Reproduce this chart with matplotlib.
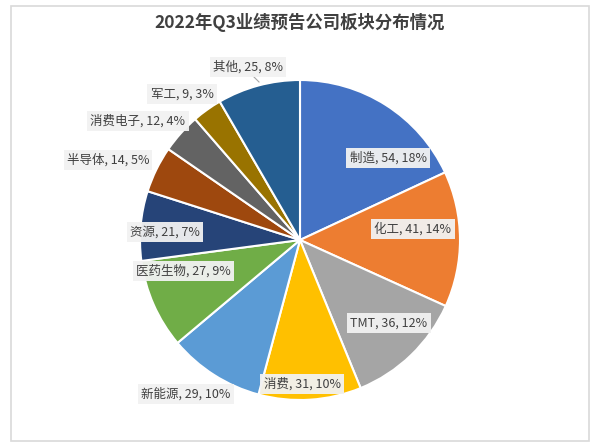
import matplotlib.pyplot as plt
from matplotlib.patches import Rectangle

plt.rcParams['font.family'] = ['Noto Sans CJK SC', 'DejaVu Sans']

title = '2022年Q3业绩预告公司板块分布情况'
sectors = ['制造', '化工', 'TMT', '消费', '新能源', '医药生物', '资源', '半导体', '消费电子', '军工', '其他']
counts = [54, 41, 36, 31, 29, 27, 21, 14, 12, 9, 25]
colors = ['#4472C4', '#ED7D31', '#A5A5A5', '#FFC000', '#5B9BD5', '#70AD47',
          '#264478', '#9E480E', '#636363', '#997300', '#255E91']

# label centres in pixel coordinates (x, y from top)
label_px = [(388, 158), (413, 229), (389, 323), (302, 384), (186, 394), (183, 271),
            (165, 232), (108, 160), (138, 121), (182, 94), (248, 67)]

W, H = 600, 446
fig = plt.figure(figsize=(6, 4.46), dpi=100)
ax = fig.add_axes([0, 0, 1, 1])
ax.set_xlim(0, W)
ax.set_ylim(0, H)
ax.set_aspect('equal')
ax.axis('off')

ax.add_patch(Rectangle((11, H - 441), 578, 435, facecolor='white',
                       edgecolor='#D9D9D9', linewidth=1.2, zorder=0))

cx, cy, r = 300, H - 240, 160
ax.pie(counts, colors=colors, startangle=90, counterclock=False,
       center=(cx, cy), radius=r, frame=True,
       wedgeprops=dict(edgecolor='white', linewidth=1.5))
ax.set_xlim(0, W)
ax.set_ylim(0, H)
ax.axis('off')

total = sum(counts)
for name, v, (px, py) in zip(sectors, counts, label_px):
    pct = round(v / total * 100)
    ax.text(px, H - py, f'{name}, {v}, {pct}%', ha='center', va='center',
            fontsize=9, color='#404040',
            bbox=dict(boxstyle='square,pad=0.25', facecolor='#F2F2F2',
                      edgecolor='none', alpha=0.95), zorder=5)

# leader line for 其他
ax.plot([252, 259], [H - 75, H - 82], color='#A6A6A6', linewidth=0.8, zorder=4)

ax.text(W / 2, H - 22, title, ha='center', va='center', fontsize=12.5,
        fontweight='bold', color='#404040')

fig.savefig('out.png', dpi=100)
